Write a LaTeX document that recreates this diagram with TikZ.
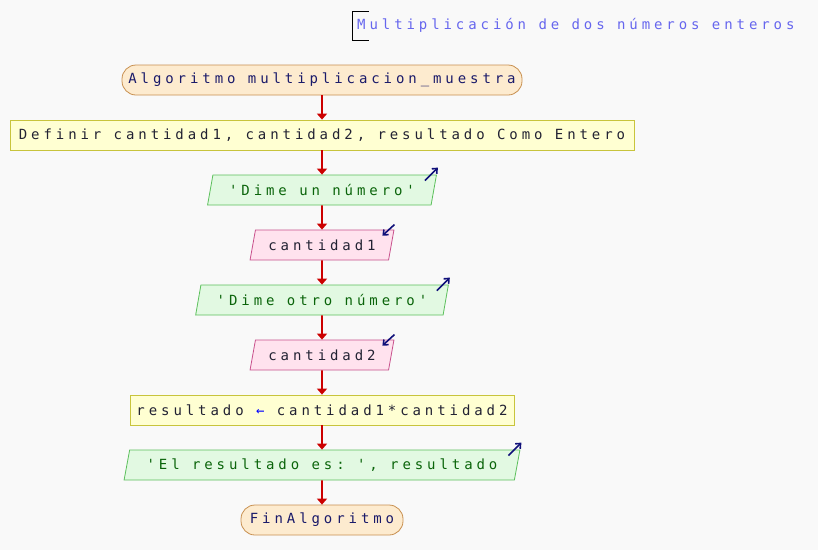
\documentclass[tikz,border=0pt]{standalone}
\usepackage{fontspec}
\setmonofont[LetterSpace=28]{DejaVu Sans Mono}
\usetikzlibrary{shapes.geometric,arrows.meta}
\definecolor{bgc}{HTML}{F9F9F9}
\definecolor{termF}{HTML}{FDEBCF}
\definecolor{termB}{HTML}{C89050}
\definecolor{procF}{HTML}{FFFFD2}
\definecolor{procB}{HTML}{C8C43C}
\definecolor{outF}{HTML}{E2F9E2}
\definecolor{outB}{HTML}{5CC05C}
\definecolor{outT}{HTML}{0A640A}
\definecolor{inF}{HTML}{FFE2EE}
\definecolor{inB}{HTML}{C8508C}
\definecolor{navyT}{HTML}{1A1A6A}
\definecolor{darkT}{HTML}{222233}
\definecolor{flowR}{HTML}{CC0000}
\definecolor{iconC}{HTML}{10107A}
\definecolor{titleC}{HTML}{6666EE}
\begin{document}
\begin{tikzpicture}[x=1pt,y=-1pt,
  base/.style={font=\ttfamily\fontsize{14}{14}\selectfont, minimum height=30pt, inner sep=0pt, line width=0.8pt},
  term/.style={base, rounded corners=14pt, draw=termB, fill=termF, text=navyT},
  proc/.style={base, rectangle, draw=procB, fill=procF, text=darkT},
  para/.style={base, trapezium, trapezium left angle=68.2, trapezium right angle=111.8, trapezium stretches=true},
  outp/.style={para, draw=outB, fill=outF, text=outT},
  inp/.style={para, draw=inB, fill=inF, text=darkT},
  flow/.style={draw=flowR, line width=1.6pt, -{Triangle[length=6pt,width=10pt]}},
  icon/.style={draw=iconC, line width=1.6pt, -{Straight Barb[length=4pt,width=7pt]}},
]
\useasboundingbox (0,0) rectangle (818,550);
\fill[bgc] (0,0) rectangle (818,550);

% title
\node[anchor=west, inner sep=0pt, font=\ttfamily\fontsize{14}{14}\selectfont, text=titleC] (title) at (357,25) {Multiplicación de dos números enteros};
\coordinate (bt) at (352,11);
\coordinate (bb) at (352,40);
\draw[line width=1pt, black] ([xshift=17pt]bt) -- (bt) -- (bb) -- ([xshift=17pt]bb);

\node[term, minimum width=400pt] (start) at (322,80) {Algoritmo multiplicacion\_muestra};
\node[proc, minimum width=624pt] (def) at (322,135) {Definir cantidad1, cantidad2, resultado Como Entero};
\node[outp, minimum width=229pt] (o1) at (322,190) {'Dime un número'};
\node[inp, minimum width=144pt] (i1) at (322,245) {cantidad1};
\node[outp, minimum width=253pt] (o2) at (322,300) {'Dime otro número'};
\node[inp, minimum width=144pt] (i2) at (322,355) {cantidad2};
\node[proc, minimum width=384pt] (asg) at (322,410) {resultado {\color{blue}←} cantidad1*cantidad2};
\node[outp, minimum width=397pt] (o3) at (322,465) {'El resultado es: ', resultado};
\node[term, minimum width=162pt] (fin) at (322,520) {FinAlgoritmo};

\draw[flow] (start) -- (def);
\draw[flow] (def) -- (o1);
\draw[flow] (o1) -- (i1);
\draw[flow] (i1) -- (o2);
\draw[flow] (o2) -- (i2);
\draw[flow] (i2) -- (asg);
\draw[flow] (asg) -- (o3);
\draw[flow] (o3) -- (fin);

% icons
\foreach \n in {o1,o2,o3}{
  \coordinate (\n a) at ([xshift=-12pt,yshift=-6pt]\n.top right corner);
  \coordinate (\n b) at ([xshift=1pt,yshift=7pt]\n.top right corner);
  \draw[icon] (\n a) -- (\n b);
}
\foreach \n in {i1,i2}{
  \coordinate (\n a) at ([xshift=0pt,yshift=5pt]\n.top right corner);
  \coordinate (\n b) at ([xshift=-12pt,yshift=-6pt]\n.top right corner);
  \draw[icon] (\n a) -- (\n b);
}
\end{tikzpicture}
\end{document}
